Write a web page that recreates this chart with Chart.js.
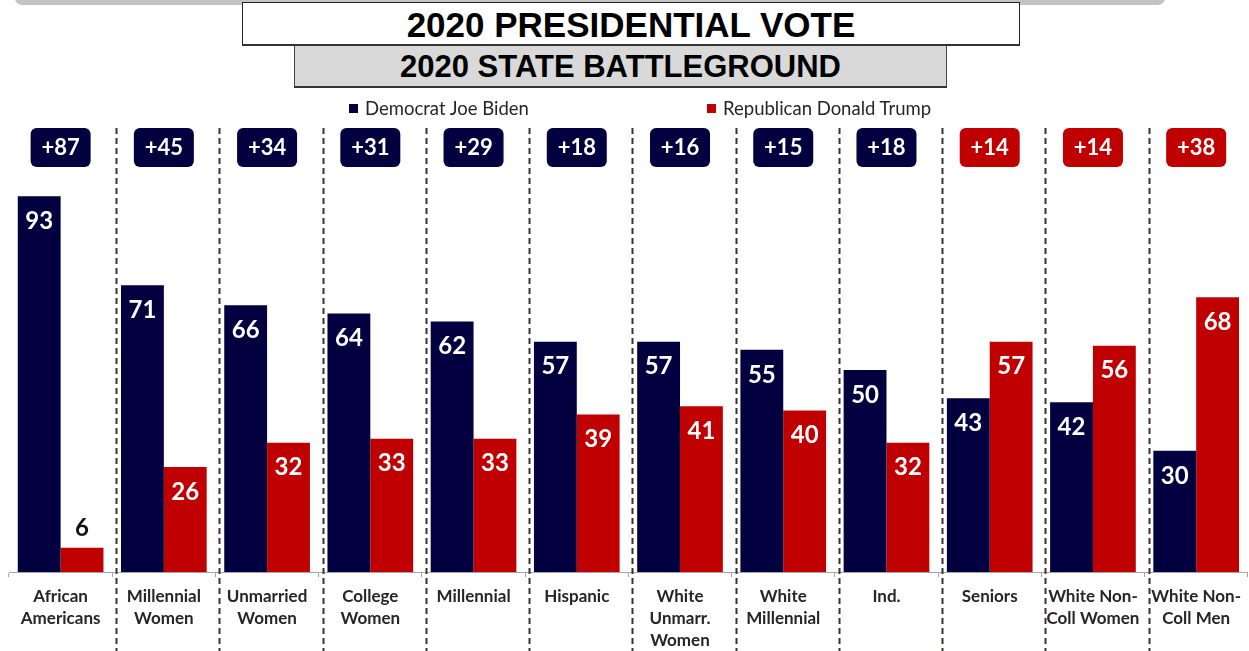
<!DOCTYPE html>
<html>
<head>
<meta charset="utf-8">
<script src="https://cdn.jsdelivr.net/npm/chart.js@4"></script>
<style>
  body { margin: 0; background: #fff; font-family: Lato, sans-serif; }
  #page { position: relative; width: 1249px; height: 651px; overflow: hidden; }
  #chart { position: absolute; left: 0; top: 0; }
  .topbar { position: absolute; left: 15px; top: -6px; width: 1150px; height: 11px; background: #c3c3c3; border-radius: 0 0 7px 7px; }
  .title1 { position: absolute; left: 242px; top: 2px; width: 776px; height: 41px; background: #fff;
            border: 1px solid #222; border-bottom: 2px solid #333; z-index: 2;
            font: bold 35px "Liberation Sans", Arial, sans-serif; text-align: center; line-height: 43px; color: #000; }
  .title2 { position: absolute; left: 294px; top: 45px; width: 651px; height: 41px; background: #d9d9d9;
            border: 1px solid #444; border-top: none; border-bottom: 2px solid #333; z-index: 1;
            font: bold 31px "Liberation Sans", Arial, sans-serif; text-align: center; line-height: 44px; color: #000; }
  .leg { position: absolute; top: 97px; font: 18.5px Lato, sans-serif; color: #262626; white-space: nowrap; }
  .leg i { display: inline-block; width: 9px; height: 9px; margin-right: 7px; vertical-align: 2px; }
</style>
</head>
<body>
<div id="page">
  <canvas id="chart" width="1249" height="651"></canvas>
  <div class="topbar"></div>
  <div class="title1">2020 PRESIDENTIAL VOTE</div>
  <div class="title2">2020 STATE BATTLEGROUND</div>
  <div class="leg" style="left:349px"><i style="background:#03003f"></i>Democrat Joe Biden</div>
  <div class="leg" style="left:707px"><i style="background:#c00000"></i>Republican Donald Trump</div>
</div>
<script>
const categories = [
  ["African", "Americans"],
  ["Millennial", "Women"],
  ["Unmarried", "Women"],
  ["College", "Women"],
  ["Millennial"],
  ["Hispanic"],
  ["White", "Unmarr.", "Women"],
  ["White", "Millennial"],
  ["Ind."],
  ["Seniors"],
  ["White Non-", "Coll Women"],
  ["White Non-", "Coll Men"],
];
const biden = [93, 71, 66, 64, 62, 57, 57, 55, 50, 43, 42, 30];
const trump = [6, 26, 32, 33, 33, 39, 41, 40, 32, 57, 56, 68];

const NAVY = "#03003f";
const RED = "#c00000";

// dashed dividers, margin badges and value labels
const overlay = {
  id: "overlay",
  afterDraw(chart) {
    const c = chart.ctx;
    const x = chart.scales.x;
    const step = x.getPixelForValue(1) - x.getPixelForValue(0);

    c.save();
    c.strokeStyle = "#3b3330";
    c.lineWidth = 2;
    c.setLineDash([6, 4]);
    for (let i = 0; i < categories.length - 1; i++) {
      const px = Math.round(x.getPixelForValue(i) + step / 2 + 4) + 0.5;
      c.beginPath();
      c.moveTo(px, 128);
      c.lineTo(px, chart.height);
      c.stroke();
    }
    c.restore();

    c.save();
    c.textAlign = "center";
    c.textBaseline = "middle";
    for (let i = 0; i < categories.length; i++) {
      const diff = biden[i] - trump[i];
      const cx = x.getPixelForValue(i);
      c.fillStyle = diff > 0 ? NAVY : RED;
      c.beginPath();
      c.roundRect(cx - 30, 128, 60, 39, 6);
      c.fill();
      c.fillStyle = "#fff";
      c.font = "bold 22px Lato";
      c.fillText("+" + Math.abs(diff), cx, 148);
    }

    c.font = "bold 24px Lato";
    chart.data.datasets.forEach((ds, di) => {
      const meta = chart.getDatasetMeta(di);
      meta.data.forEach((bar, i) => {
        const v = ds.data[i];
        if (v < 10) {
          c.fillStyle = "#111";
          c.fillText(v, bar.x, bar.y - 19);
        } else {
          c.fillStyle = "#fff";
          c.fillText(v, bar.x, bar.y + 25);
        }
      });
    });
    c.restore();
  },
};

new Chart(document.getElementById("chart"), {
  type: "bar",
  data: {
    labels: categories,
    datasets: [
      { label: "Democrat Joe Biden", data: biden, backgroundColor: NAVY },
      { label: "Republican Donald Trump", data: trump, backgroundColor: RED },
    ],
  },
  options: {
    responsive: false,
    animation: false,
    layout: { padding: { top: 168, left: 9, right: 0, bottom: 0 } },
    datasets: { bar: { categoryPercentage: 0.83, barPercentage: 1 } },
    scales: {
      x: {
        afterFit(scale) { scale.height = 79; },
        grid: { display: true, drawOnChartArea: false, drawTicks: true, tickLength: 5, color: "#a6a6a6", offset: true },
        border: { display: true, color: "#a6a6a6", width: 1 },
        ticks: {
          autoSkip: false,
          maxRotation: 0,
          padding: 8,
          color: "#262626",
          font: { family: "Lato", weight: "bold", size: 17, lineHeight: 1.3 },
        },
      },
      y: { display: false, min: 0, max: 100 },
    },
    plugins: {
      legend: { display: false },
      tooltip: { enabled: false },
    },
  },
  plugins: [overlay],
});
</script>
</body>
</html>
